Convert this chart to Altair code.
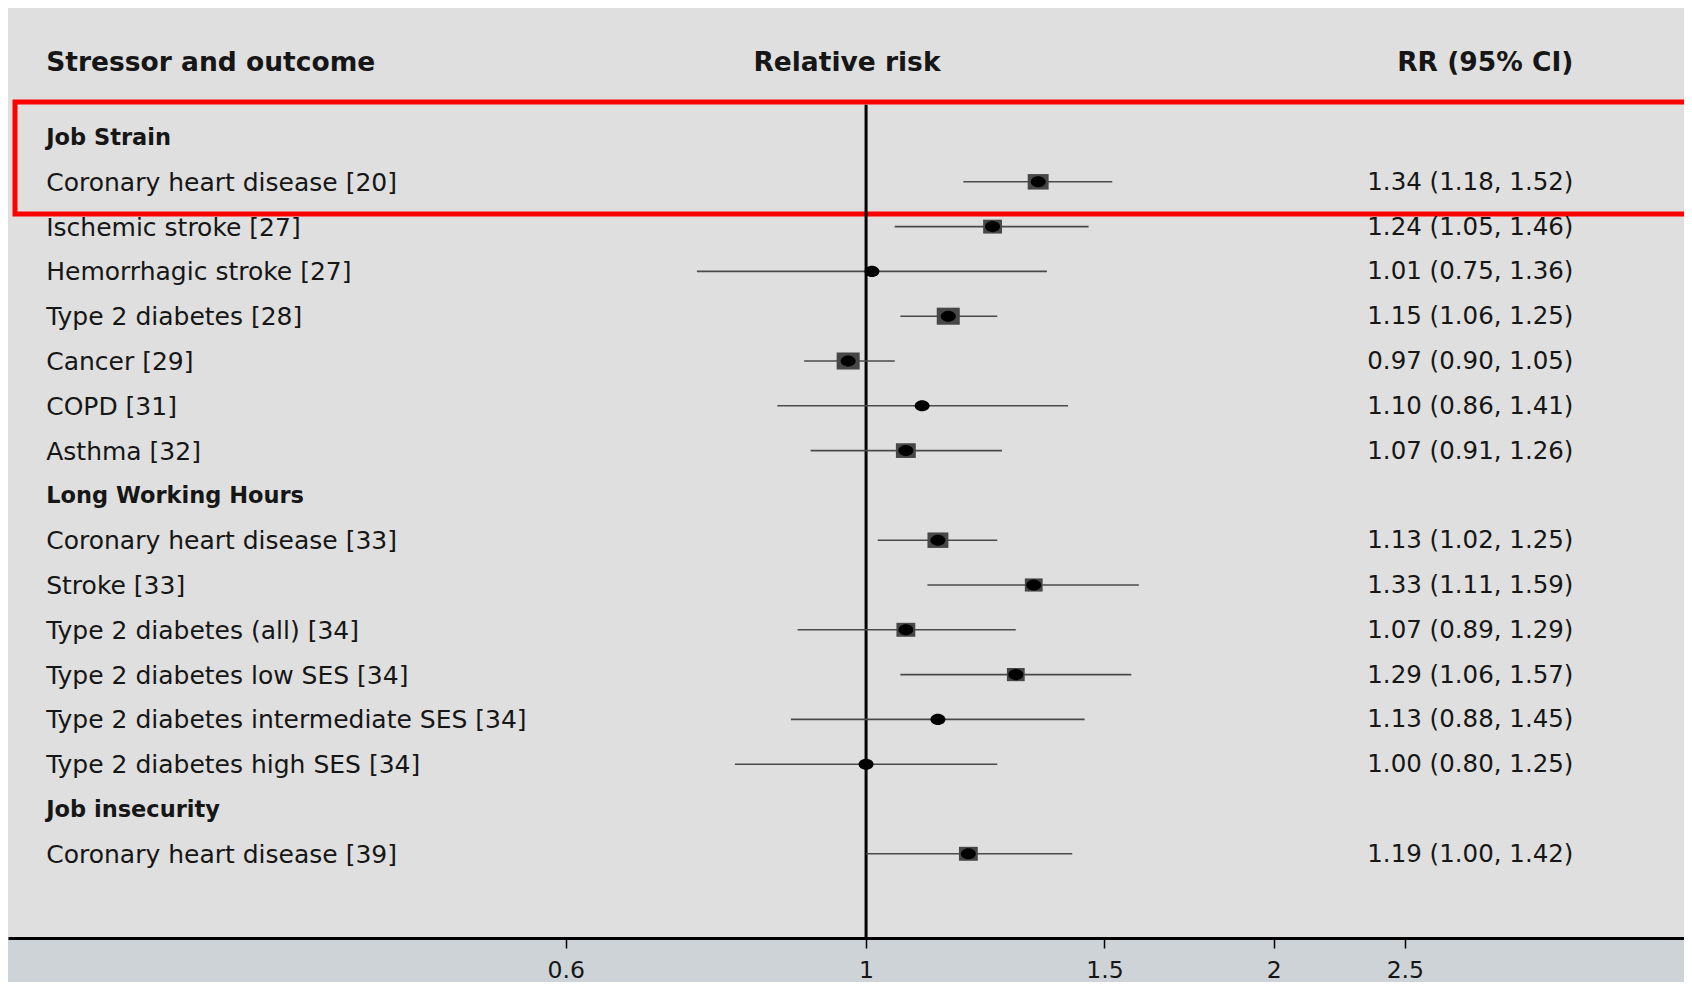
import altair as alt
import pandas as pd

# ---- data ----
labels = [
    "Job Strain",
    "Coronary heart disease [20]",
    "Ischemic stroke [27]",
    "Hemorrhagic stroke [27]",
    "Type 2 diabetes [28]",
    "Cancer [29]",
    "COPD [31]",
    "Asthma [32]",
    "Long Working Hours",
    "Coronary heart disease [33]",
    "Stroke [33]",
    "Type 2 diabetes (all) [34]",
    "Type 2 diabetes low SES [34]",
    "Type 2 diabetes intermediate SES [34]",
    "Type 2 diabetes high SES [34]",
    "Job insecurity",
    "Coronary heart disease [39]",
]
is_group = [True, False, False, False, False, False, False, False,
            True, False, False, False, False, False, False, True, False]
rr = [None, 1.34, 1.24, 1.01, 1.15, 0.97, 1.10, 1.07,
      None, 1.13, 1.33, 1.07, 1.29, 1.13, 1.00, None, 1.19]
lo = [None, 1.18, 1.05, 0.75, 1.06, 0.90, 0.86, 0.91,
      None, 1.02, 1.11, 0.89, 1.06, 0.88, 0.80, None, 1.00]
hi = [None, 1.52, 1.46, 1.36, 1.25, 1.05, 1.41, 1.26,
      None, 1.25, 1.59, 1.29, 1.57, 1.45, 1.25, None, 1.42]
weight = [None, 20, 18, 0, 22, 22, 0, 19,
          None, 20, 17, 18, 17, 0, 0, None, 18]
tick_values = [0.6, 1, 1.5, 2, 2.5]
headers = ["Stressor and outcome", "Relative risk", "RR (95% CI)"]

# ---- layout constants (data units on the log axis / row index) ----
X_DOMAIN = [0.2324, 4.019]
Y_DOMAIN = [17.88, -2.88]
LABEL_X = 0.248
RRTEXT_X = 3.33
CENTER_X = 0.968
HEADER_ROW = -1.66

rows = list(range(len(labels)))
df = pd.DataFrame({"row": rows, "label": labels, "group": is_group,
                   "rr": rr, "lo": lo, "hi": hi, "weight": weight})
df["rrtext"] = [
    f"{r:.2f} ({l:.2f}, {h:.2f})" if r is not None and not pd.isna(r) else ""
    for r, l, h in zip(rr, lo, hi)
]
df["lx"] = LABEL_X
df["tx"] = RRTEXT_X
est = df[df["rr"].notna()].copy()
boxes = est[est["weight"] > 0].copy()
groups = df[df["group"]].copy()
items = df[~df["group"]].copy()

FONT = "DejaVu Sans"
TXT = "#161616"
xs = alt.Scale(type="log", domain=X_DOMAIN, nice=False, zero=False)
ys = alt.Scale(domain=Y_DOMAIN, nice=False, zero=False)

xaxis = alt.Axis(values=tick_values, format="~g", title=None, grid=False,
                 domainColor="black", domainWidth=3, tickColor="black",
                 tickWidth=1.5, tickSize=10, labelFont=FONT, labelFontSize=23.5,
                 labelColor=TXT, labelPadding=10, labelFlush=False)

base_x = alt.X("rr:Q", scale=xs, axis=xaxis)
yenc = alt.Y("row:Q", scale=ys, axis=None)

# red highlight box
hl = pd.DataFrame({"x1": [X_DOMAIN[0] * 1.012], "x2": [X_DOMAIN[1] * 1.2],
                   "y1": [-0.78], "y2": [1.72]})
highlight = alt.Chart(hl).mark_rect(
    fill=None, stroke="#ff0000", strokeWidth=5, clip=True
).encode(x=alt.X("x1:Q", scale=xs, axis=xaxis), x2="x2:Q",
         y=alt.Y("y1:Q", scale=ys, axis=None), y2="y2:Q")

# reference line at 1
ref = pd.DataFrame({"x": [1.0], "y1": [-0.72], "y2": [Y_DOMAIN[0]]})
refline = alt.Chart(ref).mark_rule(color="black", strokeWidth=3).encode(
    x=alt.X("x:Q", scale=xs, axis=xaxis),
    y=alt.Y("y1:Q", scale=ys, axis=None), y2="y2:Q")

ci = alt.Chart(est).mark_rule(color="#4a4a4a", strokeWidth=1.6).encode(
    x=alt.X("lo:Q", scale=xs, axis=xaxis), x2="hi:Q", y=yenc)

BOX = "M-1,-0.74L1,-0.74L1,0.74L-1,0.74Z"
DOT = "M-1,0A1,0.74,0,1,0,1,0A1,0.74,0,1,0,-1,0Z"

box = alt.Chart(boxes).mark_point(
    shape=BOX, filled=True, color="#474747", opacity=1, strokeWidth=0
).encode(x=base_x, y=yenc,
         size=alt.Size("weight:Q", legend=None,
                       scale=alt.Scale(type="pow", exponent=2,
                                       domain=[0, 22], range=[0, 530])))

dot = alt.Chart(est).mark_point(
    shape=DOT, filled=True, color="black", opacity=1, size=225, strokeWidth=0
).encode(x=base_x, y=yenc)

item_labels = alt.Chart(items).mark_text(
    align="left", baseline="middle", font=FONT, fontSize=25, color=TXT, dy=1
).encode(x=alt.X("lx:Q", scale=xs, axis=xaxis), y=yenc, text="label:N")

group_labels = alt.Chart(groups).mark_text(
    align="left", baseline="middle", font=FONT, fontSize=22.5,
    fontWeight="bold", color=TXT, dy=1
).encode(x=alt.X("lx:Q", scale=xs, axis=xaxis), y=yenc, text="label:N")

rr_labels = alt.Chart(est).mark_text(
    align="right", baseline="middle", font=FONT, fontSize=24.5, color=TXT,
    dy=1
).encode(x=alt.X("tx:Q", scale=xs, axis=xaxis), y=yenc, text="rrtext:N")

hdr = pd.DataFrame({"text": headers, "x": [LABEL_X, CENTER_X, RRTEXT_X],
                    "align": ["left", "center", "right"],
                    "y": [HEADER_ROW] * 3})
hdr_layers = []
for a in ["left", "center", "right"]:
    hdr_layers.append(
        alt.Chart(hdr[hdr["align"] == a]).mark_text(
            align=a, baseline="middle", font=FONT, fontSize=26.5,
            fontWeight="bold", color=TXT
        ).encode(x=alt.X("x:Q", scale=xs, axis=xaxis),
                 y=alt.Y("y:Q", scale=ys, axis=None), text="text:N"))

chart = alt.layer(
    highlight, refline, ci, box, dot, item_labels, group_labels, rr_labels,
    *hdr_layers
).properties(
    width=1676, height=930,
    padding={"left": 0, "top": 0, "right": 0, "bottom": 0},
    background="#cdd3d6",
).configure_view(
    fill="#dfdfdf", stroke=None
)

chart.save("out.html", embed_options={"renderer": "svg", "actions": False})
